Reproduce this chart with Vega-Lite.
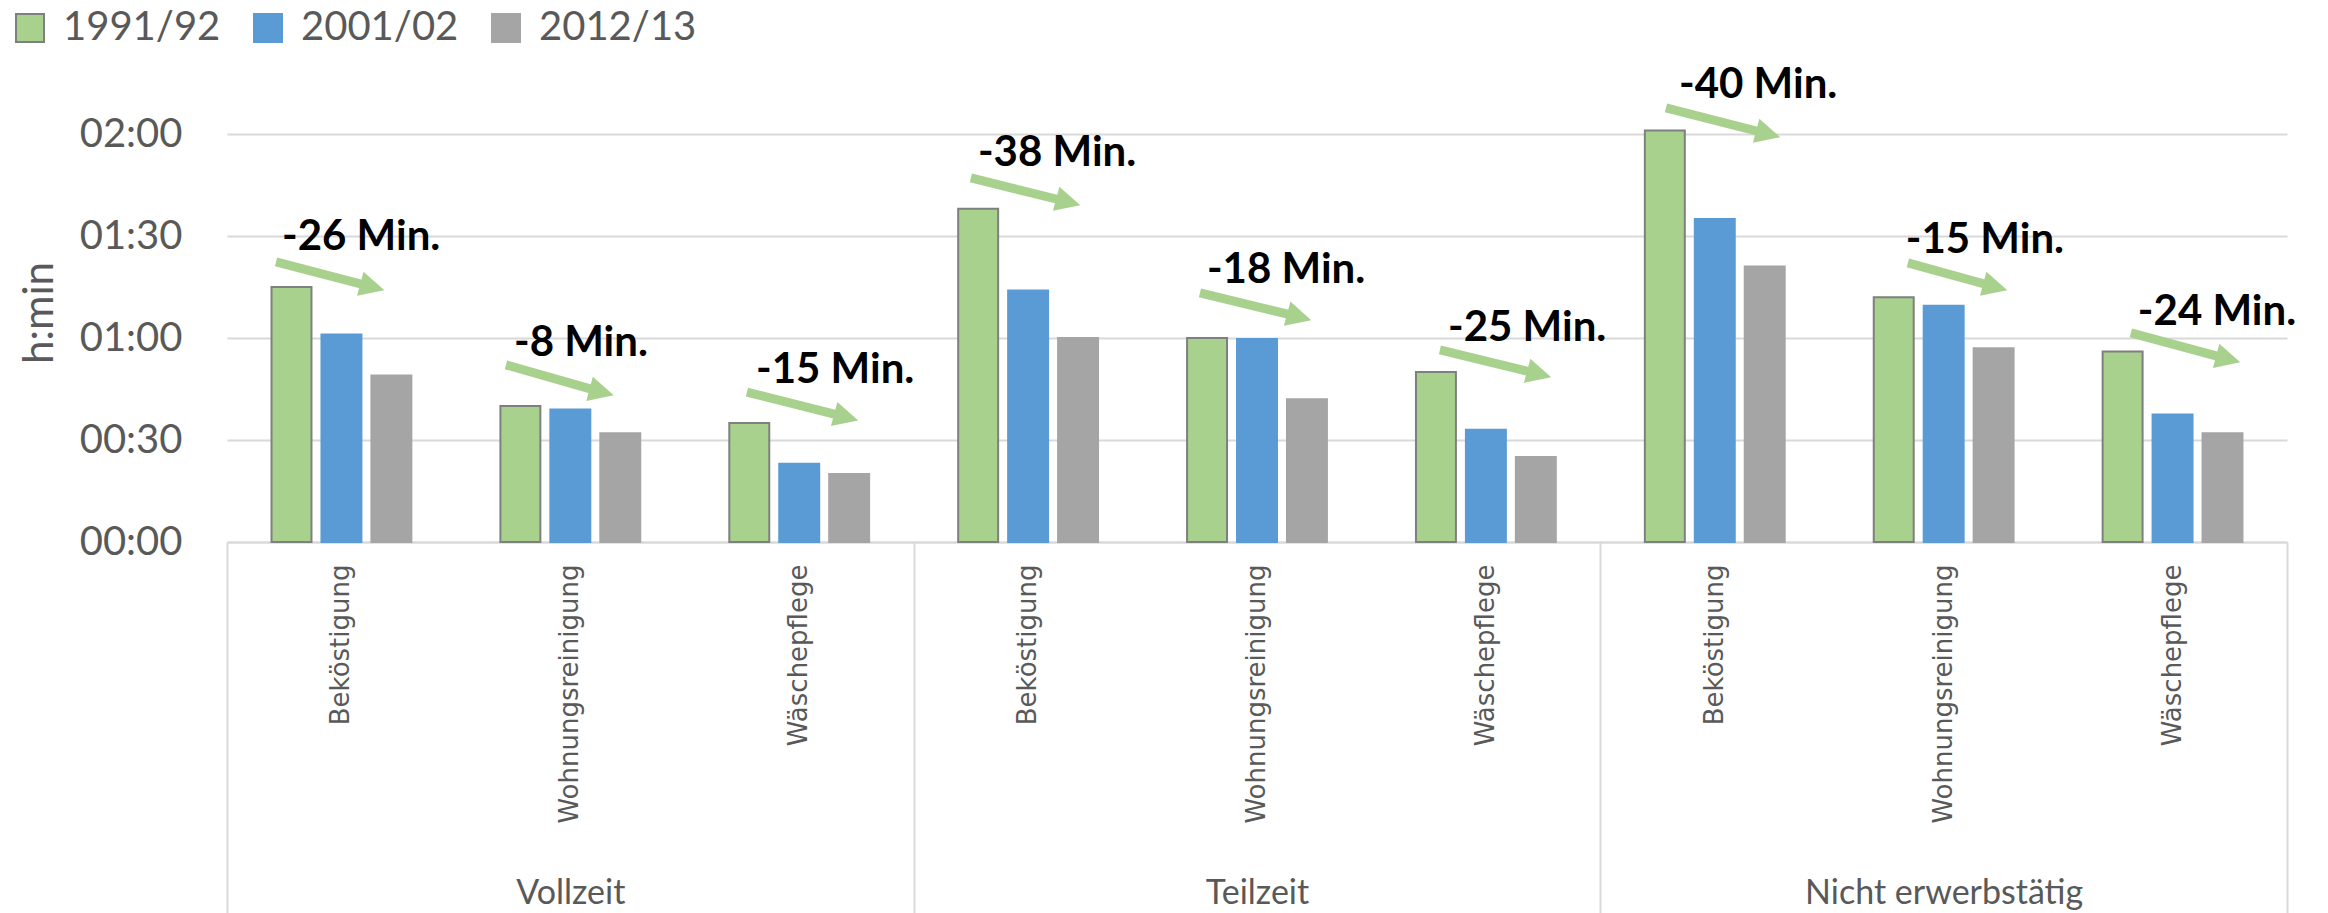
{
  "$schema": "https://vega.github.io/schema/vega-lite/v6.json",
  "width": 2060,
  "height": 459,
  "autosize": {"type": "none"},
  "padding": {"left": 227, "top": 83, "right": 41, "bottom": 371},
  "background": "white",
  "config": {"view": {"stroke": null}, "font": "Lato"},
  "datasets": {
    "bars": [
      {"group": "Vollzeit", "cat": "Beköstigung", "year": "1991/92", "min": 75},
      {"group": "Vollzeit", "cat": "Beköstigung", "year": "2001/02", "min": 61},
      {"group": "Vollzeit", "cat": "Beköstigung", "year": "2012/13", "min": 49},
      {"group": "Vollzeit", "cat": "Wohnungsreinigung", "year": "1991/92", "min": 40},
      {"group": "Vollzeit", "cat": "Wohnungsreinigung", "year": "2001/02", "min": 39},
      {"group": "Vollzeit", "cat": "Wohnungsreinigung", "year": "2012/13", "min": 32},
      {"group": "Vollzeit", "cat": "Wäschepflege", "year": "1991/92", "min": 35},
      {"group": "Vollzeit", "cat": "Wäschepflege", "year": "2001/02", "min": 23},
      {"group": "Vollzeit", "cat": "Wäschepflege", "year": "2012/13", "min": 20},
      {"group": "Teilzeit", "cat": "Beköstigung", "year": "1991/92", "min": 98},
      {"group": "Teilzeit", "cat": "Beköstigung", "year": "2001/02", "min": 74},
      {"group": "Teilzeit", "cat": "Beköstigung", "year": "2012/13", "min": 60},
      {"group": "Teilzeit", "cat": "Wohnungsreinigung", "year": "1991/92", "min": 60},
      {"group": "Teilzeit", "cat": "Wohnungsreinigung", "year": "2001/02", "min": 59.7},
      {"group": "Teilzeit", "cat": "Wohnungsreinigung", "year": "2012/13", "min": 42},
      {"group": "Teilzeit", "cat": "Wäschepflege", "year": "1991/92", "min": 50},
      {"group": "Teilzeit", "cat": "Wäschepflege", "year": "2001/02", "min": 33},
      {"group": "Teilzeit", "cat": "Wäschepflege", "year": "2012/13", "min": 25},
      {"group": "Nicht erwerbstätig", "cat": "Beköstigung", "year": "1991/92", "min": 121},
      {"group": "Nicht erwerbstätig", "cat": "Beköstigung", "year": "2001/02", "min": 95},
      {"group": "Nicht erwerbstätig", "cat": "Beköstigung", "year": "2012/13", "min": 81},
      {"group": "Nicht erwerbstätig", "cat": "Wohnungsreinigung", "year": "1991/92", "min": 72},
      {"group": "Nicht erwerbstätig", "cat": "Wohnungsreinigung", "year": "2001/02", "min": 69.5},
      {"group": "Nicht erwerbstätig", "cat": "Wohnungsreinigung", "year": "2012/13", "min": 57},
      {"group": "Nicht erwerbstätig", "cat": "Wäschepflege", "year": "1991/92", "min": 56},
      {"group": "Nicht erwerbstätig", "cat": "Wäschepflege", "year": "2001/02", "min": 37.5},
      {"group": "Nicht erwerbstätig", "cat": "Wäschepflege", "year": "2012/13", "min": 32}
    ],
    "arrows": [
      {"group": "Vollzeit", "cat": "Beköstigung", "pt": "start", "f": 0.032, "min": 82.4},
      {"group": "Vollzeit", "cat": "Beköstigung", "pt": "head", "f": 0.721, "min": 75.0},
      {"group": "Vollzeit", "cat": "Wohnungsreinigung", "pt": "start", "f": 0.04, "min": 52.1},
      {"group": "Vollzeit", "cat": "Wohnungsreinigung", "pt": "head", "f": 0.724, "min": 44.1},
      {"group": "Vollzeit", "cat": "Wäschepflege", "pt": "start", "f": 0.126, "min": 44.1},
      {"group": "Vollzeit", "cat": "Wäschepflege", "pt": "head", "f": 0.836, "min": 36.7},
      {"group": "Teilzeit", "cat": "Beköstigung", "pt": "start", "f": 0.091, "min": 107.1},
      {"group": "Teilzeit", "cat": "Beköstigung", "pt": "head", "f": 0.787, "min": 100.0},
      {"group": "Teilzeit", "cat": "Wohnungsreinigung", "pt": "start", "f": 0.092, "min": 73.3},
      {"group": "Teilzeit", "cat": "Wohnungsreinigung", "pt": "head", "f": 0.802, "min": 66.2},
      {"group": "Teilzeit", "cat": "Wäschepflege", "pt": "start", "f": 0.171, "min": 56.5},
      {"group": "Teilzeit", "cat": "Wäschepflege", "pt": "head", "f": 0.881, "min": 49.4},
      {"group": "Nicht erwerbstätig", "cat": "Beköstigung", "pt": "start", "f": 0.151, "min": 127.7},
      {"group": "Nicht erwerbstätig", "cat": "Beköstigung", "pt": "head", "f": 0.882, "min": 120.0},
      {"group": "Nicht erwerbstätig", "cat": "Wohnungsreinigung", "pt": "start", "f": 0.244, "min": 82.1},
      {"group": "Nicht erwerbstätig", "cat": "Wohnungsreinigung", "pt": "head", "f": 0.869, "min": 75.0},
      {"group": "Nicht erwerbstätig", "cat": "Wäschepflege", "pt": "start", "f": 0.202, "min": 61.5},
      {"group": "Nicht erwerbstätig", "cat": "Wäschepflege", "pt": "head", "f": 0.898, "min": 53.8}
    ],
    "labels": [
      {"group": "Vollzeit", "cat": "Beköstigung", "label": "-26 Min.", "f": 0.075, "min": 89.8},
      {"group": "Vollzeit", "cat": "Wohnungsreinigung", "label": "-8 Min.", "f": 0.097, "min": 58.6},
      {"group": "Vollzeit", "cat": "Wäschepflege", "label": "-15 Min.", "f": 0.191, "min": 50.6},
      {"group": "Teilzeit", "cat": "Beköstigung", "label": "-38 Min.", "f": 0.141, "min": 114.5},
      {"group": "Teilzeit", "cat": "Wohnungsreinigung", "label": "-18 Min.", "f": 0.142, "min": 80.1},
      {"group": "Teilzeit", "cat": "Wäschepflege", "label": "-25 Min.", "f": 0.229, "min": 63.0},
      {"group": "Nicht erwerbstätig", "cat": "Beköstigung", "label": "-40 Min.", "f": 0.244, "min": 134.5},
      {"group": "Nicht erwerbstätig", "cat": "Wohnungsreinigung", "label": "-15 Min.", "f": 0.229, "min": 88.9},
      {"group": "Nicht erwerbstätig", "cat": "Wäschepflege", "label": "-24 Min.", "f": 0.252, "min": 67.7}
    ]
  },
  "layer": [
    {
      "layer": [
        {
          "data": {"name": "bars"},
          "transform": [{"calculate": "datum.group + '|' + datum.cat", "as": "key"}],
          "mark": {"type": "bar", "strokeWidth": 2},
          "encoding": {
            "x": {
              "field": "key", "type": "nominal", "sort": null,
              "scale": {
                "domain": ["Vollzeit|Beköstigung", "Vollzeit|Wohnungsreinigung", "Vollzeit|Wäschepflege", "Teilzeit|Beköstigung", "Teilzeit|Wohnungsreinigung", "Teilzeit|Wäschepflege", "Nicht erwerbstätig|Beköstigung", "Nicht erwerbstätig|Wohnungsreinigung", "Nicht erwerbstätig|Wäschepflege"],
                "paddingInner": 0.389, "paddingOuter": 0.1945
              },
              "axis": {
                "title": null, "labelExpr": "split(datum.label, '|')[1]", "labelAngle": -90,
                "labelAlign": "right", "labelBaseline": "middle", "labelPadding": 22,
                "ticks": false, "domain": true, "domainColor": "#d9d9d9", "domainWidth": 2,
                "labelFont": "DejaVu Sans", "labelFontSize": 26, "labelColor": "#595959",
                "grid": false, "labelLimit": 500, "labelOverlap": false
              }
            },
            "xOffset": {
              "field": "year", "type": "nominal",
              "scale": {"domain": ["1991/92", "2001/02", "2012/13"], "paddingInner": 0.2, "paddingOuter": 0}
            },
            "y": {
              "field": "min", "type": "quantitative",
              "scale": {"domain": [0, 135], "nice": false},
              "axis": {
                "values": [0, 30, 60, 90, 120],
                "labelExpr": "'0' + floor(datum.value / 60) + ':' + (datum.value % 60 < 10 ? '0' : '') + (datum.value % 60)",
                "grid": true, "gridColor": "#d9d9d9", "gridWidth": 2, "domain": false, "ticks": false,
                "labelPadding": 45, "labelFont": "Lato", "labelFontSize": 40, "labelColor": "#595959",
                "title": "h:min", "titleFont": "Lato", "titleFontSize": 42, "titleFontWeight": "normal",
                "titleColor": "#595959", "titlePadding": 18
              }
            },
            "color": {
              "field": "year", "type": "nominal",
              "scale": {"domain": ["1991/92", "2001/02", "2012/13"], "range": ["#a9d18e", "#5b9bd5", "#a5a5a5"]},
              "legend": {
                "title": null, "orient": "none", "legendX": -217, "legendY": -75, "direction": "horizontal",
                "columns": 3, "symbolType": "square", "symbolSize": 784, "symbolStrokeWidth": 2,
                "labelFont": "Lato", "labelFontSize": 40, "labelColor": "#595959", "labelOffset": 13,
                "columnPadding": 27, "labelLimit": 500, "symbolOpacity": 1
              }
            },
            "stroke": {
              "field": "year", "type": "nominal",
              "scale": {"domain": ["1991/92", "2001/02", "2012/13"], "range": ["#7f7f7f", "#5b9bd5", "#a5a5a5"]},
              "legend": {
                "title": null, "orient": "none", "legendX": -217, "legendY": -75, "direction": "horizontal",
                "columns": 3, "symbolType": "square", "symbolSize": 784, "symbolStrokeWidth": 2,
                "labelFont": "Lato", "labelFontSize": 40, "labelColor": "#595959", "labelOffset": 13,
                "columnPadding": 27, "labelLimit": 500, "symbolOpacity": 1
              }
            }
          }
        },
        {
          "data": {"name": "arrows"},
          "transform": [{"calculate": "datum.group + '|' + datum.cat", "as": "key"}],
          "mark": {"type": "line", "strokeWidth": 9, "color": "#a9d18e", "strokeCap": "butt"},
          "encoding": {
            "x": {
              "field": "key", "type": "nominal", "sort": null,
              "scale": {
                "domain": ["Vollzeit|Beköstigung", "Vollzeit|Wohnungsreinigung", "Vollzeit|Wäschepflege", "Teilzeit|Beköstigung", "Teilzeit|Wohnungsreinigung", "Teilzeit|Wäschepflege", "Nicht erwerbstätig|Beköstigung", "Nicht erwerbstätig|Wohnungsreinigung", "Nicht erwerbstätig|Wäschepflege"]
              }
            },
            "xOffset": {"field": "f", "type": "quantitative", "scale": {"domain": [0, 1], "nice": false, "zero": false}},
            "y": {"field": "min", "type": "quantitative"},
            "detail": {"field": "key"},
            "order": {"field": "f"}
          }
        },
        {
          "data": {"name": "arrows"},
          "transform": [
            {"filter": "datum.pt == 'head'"},
            {"calculate": "datum.group + '|' + datum.cat", "as": "key"}
          ],
          "mark": {"type": "point", "shape": "M-1,-1L1,0L-1,1Z", "filled": true, "size": 625, "angle": 15, "color": "#a9d18e", "opacity": 1, "strokeWidth": 0},
          "encoding": {
            "x": {
              "field": "key", "type": "nominal", "sort": null,
              "scale": {
                "domain": ["Vollzeit|Beköstigung", "Vollzeit|Wohnungsreinigung", "Vollzeit|Wäschepflege", "Teilzeit|Beköstigung", "Teilzeit|Wohnungsreinigung", "Teilzeit|Wäschepflege", "Nicht erwerbstätig|Beköstigung", "Nicht erwerbstätig|Wohnungsreinigung", "Nicht erwerbstätig|Wäschepflege"]
              }
            },
            "xOffset": {"field": "f", "type": "quantitative", "scale": {"domain": [0, 1], "nice": false, "zero": false}},
            "y": {"field": "min", "type": "quantitative"}
          }
        },
        {
          "data": {"name": "labels"},
          "transform": [{"calculate": "datum.group + '|' + datum.cat", "as": "key"}],
          "mark": {"type": "text", "align": "left", "baseline": "middle", "font": "Lato", "fontSize": 42, "fontWeight": "bold", "color": "#000000"},
          "encoding": {
            "x": {
              "field": "key", "type": "nominal", "sort": null,
              "scale": {
                "domain": ["Vollzeit|Beköstigung", "Vollzeit|Wohnungsreinigung", "Vollzeit|Wäschepflege", "Teilzeit|Beköstigung", "Teilzeit|Wohnungsreinigung", "Teilzeit|Wäschepflege", "Nicht erwerbstätig|Beköstigung", "Nicht erwerbstätig|Wohnungsreinigung", "Nicht erwerbstätig|Wäschepflege"]
              }
            },
            "xOffset": {"field": "f", "type": "quantitative", "scale": {"domain": [0, 1], "nice": false, "zero": false}},
            "y": {"field": "min", "type": "quantitative"},
            "text": {"field": "label"}
          }
        }
      ],
      "resolve": {"scale": {"xOffset": "independent"}}
    },
    {
      "data": {"name": "bars"},
      "mark": {"type": "point", "opacity": 0},
      "encoding": {
        "x": {
          "field": "group", "type": "nominal", "sort": null,
          "scale": {"type": "band", "domain": ["Vollzeit", "Teilzeit", "Nicht erwerbstätig"], "paddingInner": 0, "paddingOuter": 0},
          "axis": {
            "orient": "bottom", "title": null, "domain": false, "ticks": true, "tickBand": "extent",
            "tickSize": 371, "tickColor": "#d9d9d9", "tickWidth": 2, "labelAngle": 0,
            "labelFont": "Lato", "labelFontSize": 34, "labelColor": "#595959",
            "labelPadding": -37, "labelBaseline": "top", "labelAlign": "center", "grid": false, "labelLimit": 500
          }
        }
      }
    }
  ],
  "resolve": {"scale": {"x": "independent"}, "axis": {"x": "independent"}}
}
